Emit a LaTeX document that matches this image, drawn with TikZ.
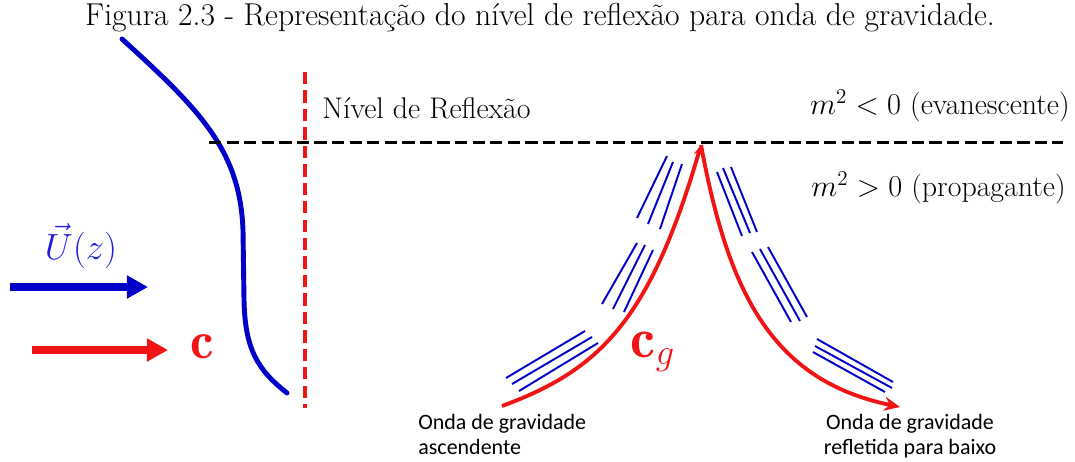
\documentclass[tikz,border=0pt]{standalone}
\usepackage{amsmath}
\usepackage{amssymb}
\usepackage{fontspec}
\usepackage{tikz}
\usetikzlibrary{arrows.meta}
\newfontfamily\labelfont{Carlito}
\definecolor{ublue}{RGB}{0,0,200}
\definecolor{lblue}{RGB}{30,30,225}
\definecolor{cred}{RGB}{240,20,20}

\begin{document}
\begin{tikzpicture}[x=0.02cm,y=-0.02cm,
    wave/.style={ublue,line width=1.1pt},
    ray/.style={cred,line width=2.2pt},
    txt/.style={inner sep=0pt,font=\fontsize{17}{20}\selectfont},
    lbl/.style={inner sep=0pt,font=\labelfont\fontsize{12.5}{14.2}\selectfont}]
    \useasboundingbox (0,0) rectangle (1075,461);
    \node[inner sep=0pt,font=\fontsize{18}{21}\selectfont] (title) at (540,18) {Figura 2.3 - Representação do nível de reflexão para onda de gravidade.};
    \node[txt,anchor=west] (nivel) at (322,108) {Nível de Reflexão};
    \node[txt,anchor=east] (evan) at (1070,106) {$m^2<0$ (evanescente)};
    \node[txt,anchor=east] (prop) at (1066,188) {$m^2>0$ (propagante)};
    \node[lbl,anchor=north west,align=left] (asc) at (418,414) {Onda de gravidade\\ascendente};
    \node[lbl,anchor=north,align=center] (refl) at (910,414) {Onda de gravidade\\refletida para baixo};
    \node[inner sep=0pt,text=lblue,font=\fontsize{20}{24}\selectfont] (U) at (81,246) {$\vec{U}(z)$};
    \node[inner sep=0pt,text=cred,font=\fontsize{30}{36}\selectfont] (c) at (202,347) {$\mathbf{c}$};
    \node[inner sep=0pt,text=cred,font=\fontsize{32}{38}\selectfont] (cg) at (653,352) {$\mathbf{c}_g$};
    % perfil do vento
    \draw[ublue,line width=2.8pt,line cap=round] (122,39) .. controls (200,110) and (240,150) .. (243,230)
        -- (244,300) .. controls (245,350) and (258,370) .. (287,393);
    % niveis
    \draw[cred,line width=2.3pt,dash pattern=on 7pt off 3.5pt] (305,72) -- (305,408);
    \draw[black,line width=1.7pt,dash pattern=on 7pt off 3pt] (209,142) -- (1063,142);
    % setas
    \coordinate (ua) at (10,287);
    \coordinate (ub) at (148,287);
    \coordinate (ca) at (32,350);
    \coordinate (cb) at (168,350);
    \draw[ublue,line width=4pt,-{Triangle[length=12pt,width=12.5pt]}] (ua) -- (ub);
    \draw[cred,line width=4.5pt,-{Triangle[length=12pt,width=12.5pt]}] (ca) -- (cb);
    % raio
    \coordinate (start) at (502,406);
    \coordinate (peak) at (701,145);
    \coordinate (end) at (900,407);
    \draw[ray,-{Stealth[length=6pt,width=5pt]}] (start) .. controls (600,370) and (650,320) .. (peak);
    \draw[ray,-{Stealth[length=9pt,width=8pt]}] (peak) .. controls (728,290) and (770,380) .. (end);
    % frentes de onda
    \foreach \xa/\ya/\xb/\yb in {637/218/667/156, 648/224/673/162, 660/229/682/164,
        602/304/637/243, 613/309/645/245, 624/312/653/250,
        506/378/585/331, 512/384/592/337, 519/391/598/343,
        717/172/742/236, 723/168/750/233, 731/167/757/232,
        752/252/791/322, 760/249/800/321, 768/247/807/317,
        817/339/893/382, 815/346/892/388, 813/352/885/392}
        \draw[wave] (\xa,\ya) -- (\xb,\yb);
\end{tikzpicture}
\end{document}
